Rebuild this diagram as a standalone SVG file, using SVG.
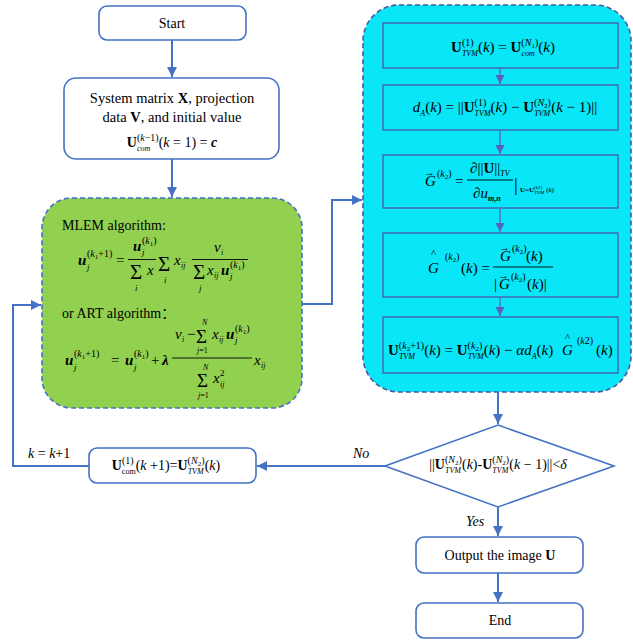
<svg xmlns="http://www.w3.org/2000/svg" width="633" height="642" viewBox="0 0 633 642">
<defs>
<style>
.f{font-family:"Liberation Serif","Times New Roman","Noto Sans CJK SC",serif;font-size:15px;fill:#000}
.i{font-style:italic}
.b{font-weight:bold}
.p{font-size:10px}
.q{font-size:8px}
.r{font-size:9px}
.sg{font-size:21px}
.box{fill:#fff;stroke:#4472c4;stroke-width:1.6}
.ib{fill:none;stroke:#4a58a8;stroke-width:1.3}
.bar{stroke:#000;stroke-width:0.9}
.c{fill:none;stroke:#4472c4;stroke-width:2}
.ci{fill:none;stroke:#5a62c0;stroke-width:1.3}
</style>
<marker id="ah" viewBox="0 0 10 10" refX="10" refY="5" markerWidth="10" markerHeight="10" markerUnits="userSpaceOnUse" orient="auto"><path d="M0,0 L10,5 L0,10 z" fill="#4472c4"/></marker>
<marker id="ai" viewBox="0 0 10 10" refX="10" refY="5" markerWidth="9" markerHeight="9" markerUnits="userSpaceOnUse" orient="auto"><path d="M0,0 L10,5 L0,10 z" fill="#5a62c0"/></marker>
</defs>

<g id="start">
<rect class="box" x="99" y="6" width="147" height="34" rx="8"/>
<text class="f" x="172" y="28" text-anchor="middle" style="font-size:14px">Start</text>
</g>

<g id="init">
<rect class="box" x="64" y="78" width="215" height="81" rx="12"/>
<text class="f" x="172" y="103" text-anchor="middle" style="font-size:14.5px">System matrix <tspan class="b">X</tspan>, projection</text>
<text class="f" x="172" y="122" text-anchor="middle" style="font-size:14.5px">data <tspan class="b">V</tspan>, and initial value</text>
<text class="f" x="172" y="147" text-anchor="middle" style="font-size:14px"><tspan class="b">U</tspan><tspan class="p" dy="-6">(<tspan class="i">k</tspan>−1)</tspan><tspan class="q i" dx="-21.7" dy="10">com</tspan><tspan dx="8.4" dy="-4">(</tspan><tspan class="i">k</tspan> = 1) = <tspan class="i b">c</tspan></text>
</g>

<g id="algo">
<rect x="42" y="198" width="260" height="210" rx="30" fill="#92d050" stroke="#4472c4" stroke-width="1.6" stroke-dasharray="5,3"/>
<text class="f" x="62" y="230" style="font-size:14px">MLEM algorithm:</text>
<text class="f i b" x="78" y="265">u</text>
<text class="f p" x="87" y="257">(<tspan class="i">k</tspan><tspan style="font-size:7px" dy="2">1</tspan><tspan dy="-2">+1)</tspan></text>
<text class="f r i" x="87" y="270">j</text>
<text class="f" x="116" y="265">=</text>
<text class="f i b" x="133" y="251">u</text>
<text class="f p" x="142" y="244">(<tspan class="i">k</tspan><tspan style="font-size:7px" dy="2">1</tspan><tspan dy="-2">)</tspan></text>
<text class="f r i" x="142" y="255">j</text>
<line class="bar" x1="128" y1="259.5" x2="156" y2="259.5"/>
<text class="f sg" x="130" y="279">Σ</text>
<text class="f i" x="147" y="275">x</text>
<text class="f r i" x="135" y="291">i</text>
<text class="f sg" x="158" y="271">Σ</text>
<text class="f r i" x="164" y="283">i</text>
<text class="f i" x="174" y="265">x</text>
<text class="f q i" x="181" y="268">ij</text>
<line class="bar" x1="192" y1="259.5" x2="248" y2="259.5"/>
<text class="f i" x="214" y="252">v</text>
<text class="f q i" x="221" y="255">i</text>
<text class="f sg" x="193" y="279">Σ</text>
<text class="f r i" x="199" y="291">j</text>
<text class="f i" x="207" y="275">x</text>
<text class="f q i" x="214" y="278">ij</text>
<text class="f i b" x="221" y="275">u</text>
<text class="f p" x="230" y="268">(<tspan class="i">k</tspan><tspan style="font-size:7px" dy="2">1</tspan><tspan dy="-2">)</tspan></text>
<text class="f r i" x="230" y="279">j</text>

<text class="f" x="62" y="318" style="font-size:14px">or ART algorithm：</text>
<text class="f i b" x="65" y="365">u</text>
<text class="f p" x="74" y="357">(<tspan class="i">k</tspan><tspan style="font-size:7px" dy="2">1</tspan><tspan dy="-2">+1)</tspan></text>
<text class="f r i" x="74" y="370">j</text>
<text class="f" x="111" y="365">=</text>
<text class="f i b" x="125" y="365">u</text>
<text class="f p" x="134" y="357">(<tspan class="i">k</tspan><tspan style="font-size:7px" dy="2">1</tspan><tspan dy="-2">)</tspan></text>
<text class="f r i" x="134" y="370">j</text>
<text class="f" x="151" y="365">+</text>
<text class="f i b" x="162" y="365">λ</text>
<text class="f i" x="175" y="339">v</text>
<text class="f q i" x="182" y="342">i</text>
<text class="f" x="187" y="339">−</text>
<text class="f" x="196" y="343" style="font-size:19px">Σ</text>
<text class="f q i" x="202" y="325">N</text>
<text class="f q" x="197" y="353"><tspan class="i">j</tspan>=1</text>
<text class="f i" x="212" y="339">x</text>
<text class="f q i" x="219" y="342">ij</text>
<text class="f i b" x="226" y="339">u</text>
<text class="f p" x="235" y="332">(<tspan class="i">k</tspan><tspan style="font-size:7px" dy="2">1</tspan><tspan dy="-2">)</tspan></text>
<text class="f r i" x="235" y="343">j</text>
<line class="bar" x1="172" y1="358" x2="252" y2="358"/>
<text class="f" x="197" y="387" style="font-size:19px">Σ</text>
<text class="f q i" x="203" y="370">N</text>
<text class="f q" x="198" y="398"><tspan class="i">j</tspan>=1</text>
<text class="f i" x="213" y="383">x</text>
<text class="f r" x="220" y="376">2</text>
<text class="f q i" x="220" y="387">ij</text>
<text class="f i" x="254" y="365">x</text>
<text class="f q i" x="261" y="368">ij</text>
</g>

<g id="tvm">
<rect x="363" y="5" width="268" height="387" rx="36" fill="#08e6f7" stroke="#4a5a9e" stroke-width="1.6" stroke-dasharray="5,3"/>
</g>

<g id="tvm1">
<rect class="ib" x="383" y="23" width="235" height="45"/>
<text class="f" x="503" y="52" text-anchor="middle"><tspan class="b">U</tspan><tspan class="p" dy="-6">(1)</tspan><tspan class="q i" dx="-11.7" dy="10">TVM</tspan><tspan dy="-4">(</tspan><tspan class="i">k</tspan>) = <tspan class="b">U</tspan><tspan class="p" dy="-6">(<tspan class="i">N</tspan><tspan style="font-size:7px" dy="2">1</tspan><tspan dy="-2">)</tspan></tspan><tspan class="q i" dx="-16.8" dy="10">com</tspan><tspan dx="3.5" dy="-4">(</tspan><tspan class="i">k</tspan>)</text>
</g>

<g id="tvm2">
<rect class="ib" x="383" y="85" width="235" height="45"/>
<text class="f" x="505" y="112" text-anchor="middle"><tspan class="i">d</tspan><tspan class="q i" dy="4">A</tspan><tspan dy="-4">(</tspan><tspan class="i">k</tspan>) = ||<tspan class="b">U</tspan><tspan class="p" dy="-6">(1)</tspan><tspan class="q i" dx="-11.7" dy="10">TVM</tspan><tspan dy="-4">(</tspan><tspan class="i">k</tspan>) − <tspan class="b">U</tspan><tspan class="p" dy="-6">(<tspan class="i">N</tspan><tspan style="font-size:7px" dy="2">2</tspan><tspan dy="-2">)</tspan></tspan><tspan class="q i" dx="-16.8" dy="10">TVM</tspan><tspan dx="1" dy="-4">(</tspan><tspan class="i">k</tspan> − 1)||</text>
</g>

<g id="tvm3">
<rect class="ib" x="383" y="155" width="235" height="53"/>
<text class="f i" x="425" y="186">G</text>
<text class="f" x="424" y="176" style="font-size:11px">→</text>
<text class="f p" x="437" y="177">(<tspan class="i">k</tspan><tspan style="font-size:7px" dy="2">2</tspan><tspan dy="-2">)</tspan></text>
<text class="f" x="455" y="186">=</text>
<text class="f" x="470" y="173">∂||<tspan class="b">U</tspan>||<tspan class="q i" dy="3">TV</tspan></text>
<line class="bar" x1="467" y1="180" x2="513" y2="180"/>
<text class="f" x="473" y="198">∂<tspan class="i">u</tspan><tspan class="q i b" dy="3">m,n</tspan></text>
<text class="f" x="514" y="191" style="font-size:19px">|</text>
<text class="f" x="520" y="192" style="font-size:7px"><tspan class="b">U</tspan>=<tspan class="b">U</tspan><tspan dy="-3" style="font-size:5px">(<tspan class="i">k</tspan>2)</tspan><tspan class="i" dx="-8" dy="5" style="font-size:5px">TVM</tspan><tspan dx="2" dy="-2">(</tspan><tspan class="i">k</tspan>)</text>
</g>

<g id="tvm4">
<rect class="ib" x="383" y="233" width="235" height="64"/>
<text class="f i" x="428" y="273">G</text>
<text class="f" x="431" y="257" style="font-size:11px">^</text>
<text class="f p" x="445" y="260">(<tspan class="i">k</tspan><tspan style="font-size:7px" dy="2">2</tspan><tspan dy="-2">)</tspan></text>
<text class="f" x="461" y="273">(<tspan class="i">k</tspan>) =</text>
<text class="f i" x="500" y="261">G</text>
<text class="f" x="499" y="251" style="font-size:11px">→</text>
<text class="f p" x="512" y="252">(<tspan class="i">k</tspan><tspan style="font-size:7px" dy="2">2</tspan><tspan dy="-2">)</tspan></text>
<text class="f" x="526" y="261">(<tspan class="i">k</tspan>)</text>
<line class="bar" x1="493" y1="267" x2="553" y2="267"/>
<text class="f" x="494" y="289">|</text>
<text class="f i" x="499" y="289">G</text>
<text class="f" x="498" y="279" style="font-size:11px">→</text>
<text class="f p" x="511" y="280">(<tspan class="i">k</tspan><tspan style="font-size:7px" dy="2">2</tspan><tspan dy="-2">)</tspan></text>
<text class="f" x="527" y="289">(<tspan class="i">k</tspan>)|</text>
</g>

<g id="tvm5">
<rect class="ib" x="383" y="317" width="235" height="56"/>
<text class="f" x="388" y="355"><tspan class="b">U</tspan><tspan class="p" dy="-6">(<tspan class="i">k</tspan><tspan style="font-size:7px" dy="2">2</tspan><tspan dy="-2">+1)</tspan></tspan><tspan class="q i" dx="-25.2" dy="10">TVM</tspan><tspan dx="9.2" dy="-4">(</tspan><tspan class="i">k</tspan>) = <tspan class="b">U</tspan><tspan class="p" dy="-6">(<tspan class="i">k</tspan><tspan style="font-size:7px" dy="2">2</tspan><tspan dy="-2">)</tspan></tspan><tspan class="q i" dx="-14.6" dy="10">TVM</tspan><tspan dy="-4">(</tspan><tspan class="i">k</tspan>) − <tspan class="i">αd</tspan><tspan class="q i" dy="4">A</tspan><tspan dy="-4">(</tspan><tspan class="i">k</tspan>)</text>
<text class="f i" x="562" y="355">G</text>
<text class="f" x="565" y="341" style="font-size:11px">^</text>
<text class="f p" x="577" y="344">(<tspan class="i">k</tspan>2)</text>
<text class="f" x="596" y="355">(<tspan class="i">k</tspan>)</text>
</g>

<g id="check">
<polygon points="498,425 614,466 498,507 385,466" fill="#fff" stroke="#4472c4" stroke-width="1.6"/>
<text class="f" x="498" y="469" text-anchor="middle" style="font-size:14px">||<tspan class="b">U</tspan><tspan class="p" dy="-6">(<tspan class="i">N</tspan><tspan style="font-size:7px" dy="2">2</tspan><tspan dy="-2">)</tspan></tspan><tspan class="q i" dx="-16.8" dy="10">TVM</tspan><tspan dx="1" dy="-4">(</tspan><tspan class="i">k</tspan>)-<tspan class="b">U</tspan><tspan class="p" dy="-6">(<tspan class="i">N</tspan><tspan style="font-size:7px" dy="2">2</tspan><tspan dy="-2">)</tspan></tspan><tspan class="q i" dx="-16.8" dy="10">TVM</tspan><tspan dx="1" dy="-4">(</tspan><tspan class="i">k</tspan> − 1)||&lt;<tspan class="i">δ</tspan></text>
</g>

<g id="update">
<rect class="box" x="89" y="448" width="167" height="35" rx="8"/>
<text class="f" x="166" y="470" text-anchor="middle" style="font-size:14px"><tspan class="b">U</tspan><tspan class="p" dy="-6">(1)</tspan><tspan class="q" dx="-11.7" dy="10">com</tspan><tspan dy="-4">(</tspan><tspan class="i">k</tspan> +1)=<tspan class="b">U</tspan><tspan class="p" dy="-6">(<tspan class="i">N</tspan><tspan style="font-size:7px" dy="2">2</tspan><tspan dy="-2">)</tspan></tspan><tspan class="q i" dx="-16.8" dy="10">TVM</tspan><tspan dx="1" dy="-4">(</tspan><tspan class="i">k</tspan>)</text>
</g>

<g id="output">
<rect class="box" x="416" y="537" width="167" height="36" rx="8"/>
<text class="f" x="500" y="560" text-anchor="middle" style="font-size:14px">Output the image <tspan class="b">U</tspan></text>
</g>

<g id="end">
<rect class="box" x="416" y="603" width="167" height="35" rx="8"/>
<text class="f" x="500" y="625" text-anchor="middle" style="font-size:14px">End</text>
</g>

<g id="connectors">
<path class="c" d="M172,40 V77" marker-end="url(#ah)"/>
<path class="c" d="M172,159 V197" marker-end="url(#ah)"/>
<path class="c" d="M302,304 H332 V200 H362" marker-end="url(#ah)"/>
<path class="ci" d="M500,68 V84" marker-end="url(#ai)"/>
<path class="ci" d="M500,130 V154" marker-end="url(#ai)"/>
<path class="ci" d="M500,208 V232" marker-end="url(#ai)"/>
<path class="ci" d="M500,297 V316" marker-end="url(#ai)"/>
<path class="c" d="M498,392 V424" marker-end="url(#ah)"/>
<path class="c" d="M385,466 H257" marker-end="url(#ah)"/>
<path class="c" d="M89,466 H13 V305 H41" marker-end="url(#ah)"/>
<path class="c" d="M498,507 V536" marker-end="url(#ah)"/>
<path class="c" d="M498,573 V602" marker-end="url(#ah)"/>
<text class="f i" x="353" y="458" style="font-size:14px">No</text>
<text class="f i" x="466" y="526" style="font-size:14px">Yes</text>
<text class="f" x="28" y="458" style="font-size:14px"><tspan class="i">k</tspan> = <tspan class="i">k</tspan>+1</text>
</g>
</svg>
